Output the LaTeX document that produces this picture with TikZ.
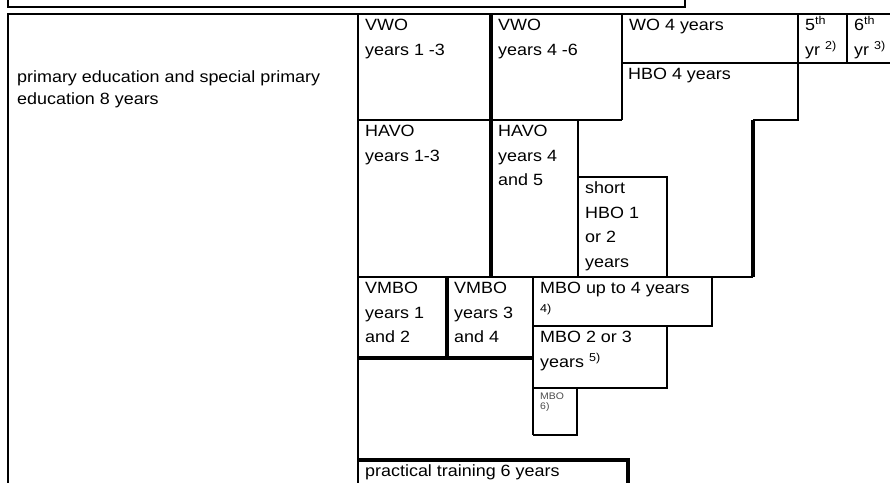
\documentclass[tikz,border=0pt]{standalone}
\usepackage{fontspec}
\setmainfont[FakeStretch=1.1]{Liberation Sans}

\begin{document}
\begin{tikzpicture}[
    x=1pt, y=-1pt,
    font=\fontsize{16.3}{24.5}\selectfont,
    rule/.style={line width=1.4pt},
    heavy/.style={line width=3.2pt},
    cell/.style={anchor=north west, inner sep=0pt, align=left},
    tiny/.style={font=\fontsize{9.5}{10}\selectfont, text=black!70},
]
\useasboundingbox (0,0) rectangle (890,482);

% === Top box (cut off) ===
\draw[line width=1.8pt] (8,-3) -- (8,7) -- (685,7) -- (685,-3);

% === Main frame ===
\draw[rule] (893,14) -- (8,14) -- (8,485);
\draw[rule] (358,14) -- (358,485);

% === VWO / WO rows ===
\draw[rule] (622,14) -- (622,120);
\draw[rule] (798,14) -- (798,120) -- (753,120);
\draw[rule] (847,14) -- (847,63);
\draw[rule] (622,63) -- (893,63);
\draw[rule] (358,120) -- (622,120);
\draw[heavy] (491,14) -- (491,277);

% === HAVO / HBO ===
\draw[rule] (578,120) -- (578,277);
\draw[rule] (578,177) -- (667,177) -- (667,277);
\draw[heavy] (753,120) -- (753,277);
\draw[rule] (358,277) -- (753,277);

% === VMBO / MBO ===
\draw[heavy] (447,277) -- (447,358);
\draw[heavy] (358,358) -- (533,358);
\draw[rule] (533,277) -- (533,435);
\draw[rule] (533,326) -- (712,326) -- (712,277);
\draw[rule] (667,326) -- (667,388) -- (533,388);
\draw[rule] (577,388) -- (577,435) -- (533,435);

% === Practical training ===
\draw[heavy] (358,460) -- (628,460) -- (628,485);

% === Labels ===
\node[cell, font=\fontsize{16.3}{21.3}\selectfont] (prim) at (17,67.8)
     {\strut primary education and special primary\\education 8 years};
\node[cell] (vwolow)   at (365,13.5)  {\strut VWO\\years 1 -3};
\node[cell] (vwohigh)  at (498,13.5)  {\strut VWO\\years 4 -6};
\node[cell] (wo)       at (629,13.5)  {\strut WO 4 years};
\node[cell] (yrfive)   at (805,13.5)  {\strut 5\textsuperscript{th}\\yr \textsuperscript{2)}};
\node[cell] (yrsix)    at (854,13.5)  {\strut 6\textsuperscript{th}\\yr \textsuperscript{3)}};
\node[cell] (hbo)      at (628,62.5)  {\strut HBO 4 years};
\node[cell] (havolow)  at (365,119.5) {\strut HAVO\\years 1-3};
\node[cell] (havohigh) at (498,119.5) {\strut HAVO\\years 4\\and 5};
\node[cell] (shorthbo) at (585,176.5) {\strut short\\HBO 1\\or 2\\years};
\node[cell] (vmbolow)  at (365,276.5) {\strut VMBO\\years 1\\and 2};
\node[cell] (vmbohigh) at (454,276.5) {\strut VMBO\\years 3\\and 4};
\node[cell] (mbofour)  at (540,276.5) {\strut MBO up to 4 years\\\textsuperscript{4)}};
\node[cell] (mbothree) at (540,325.5) {\strut MBO 2 or 3\\years \textsuperscript{5)}};
\node[cell, tiny] (mbosix) at (540,392.5) {\strut MBO\\6)};
\node[cell] (practical) at (365,459.5) {\strut practical training 6 years};

\end{tikzpicture}
\end{document}
